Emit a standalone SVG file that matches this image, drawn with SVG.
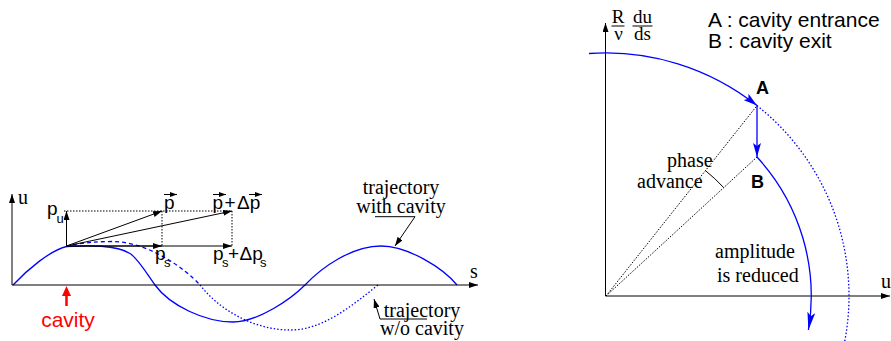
<svg xmlns="http://www.w3.org/2000/svg" width="891" height="341" viewBox="0 0 891 341">
<defs>
<style>
.ax{stroke:#000;stroke-width:1;fill:none}
.bl{stroke:#0000ff;stroke-width:1.3;fill:none}
.dash{stroke-dasharray:4 3}
.dot{stroke-dasharray:1.5 2}
.kdot{stroke:#000;stroke-width:1;stroke-dasharray:1.5 1.5;fill:none}
.serif{font-family:"Liberation Serif","Times New Roman",serif;font-size:20px;fill:#000}
.frac{font-family:"Liberation Serif","Times New Roman",serif;font-size:19px;fill:#000}
.sans{font-family:"Liberation Sans",Arial,sans-serif;fill:#000}
.p{font-size:19px}
.sub{font-size:13px}
</style>
<marker id="ak" markerUnits="userSpaceOnUse" markerWidth="9" markerHeight="6" refX="9" refY="3" orient="auto"><path d="M0,0 L9,3 L0,6 z" fill="#000"/></marker>
<marker id="aks" markerUnits="userSpaceOnUse" markerWidth="7" markerHeight="5" refX="7" refY="2.5" orient="auto"><path d="M0,0 L7,2.5 L0,5 z" fill="#000"/></marker>
<marker id="ab" markerUnits="userSpaceOnUse" markerWidth="14" markerHeight="8" refX="14" refY="4" orient="auto"><path d="M0,0 L14,4 L0,8 L3,4 z" fill="#0000ff"/></marker>
<marker id="abb" markerUnits="userSpaceOnUse" markerWidth="18" markerHeight="8" refX="18" refY="4" orient="auto"><path d="M0,0 L18,4 L0,8 L4,4 z" fill="#0000ff"/></marker>
</defs>

<g id="left-plot">
<g id="left-curves">
<path class="bl" d="M13,285 C27,270 50,250.5 66.5,246.5 C88,245.5 116,244.5 130,253.5 C138,258.6 147,274 155,285 C170,305.6 205,322 233,322 C258,322 291,299 305,285 C322,267 352,246 381,246 C408,246 443,268 457,285"/>
<path class="bl dash" d="M66.5,246.5 C80,243 95,241.5 112,241.5 C148,241.5 185,268.5 200,285"/>
<path class="bl dot" d="M200,285 C222,313 257.5,330 290,330 C321.8,330 349.3,308 378,285"/>
</g>
<g id="left-axes">
<line class="ax" x1="12" y1="285" x2="12" y2="194" marker-end="url(#ak)"/>
<line class="ax" x1="12" y1="285" x2="478" y2="285" marker-end="url(#ak)"/>
<text class="serif" x="18" y="204">u</text>
<text class="serif" x="470" y="278">s</text>
</g>
<g id="vectors">
<line class="kdot" x1="64" y1="211" x2="232" y2="211"/>
<line class="kdot" x1="162" y1="211" x2="162" y2="246"/>
<line class="kdot" x1="232" y1="211" x2="232" y2="246"/>
<line class="ax" x1="66.5" y1="246" x2="66.5" y2="211" marker-end="url(#ak)"/>
<line class="ax" x1="66.5" y1="246" x2="162" y2="211" marker-end="url(#ak)"/>
<line class="ax" x1="66.5" y1="246" x2="232" y2="211" marker-end="url(#ak)"/>
<line class="ax" x1="66.5" y1="246" x2="232" y2="246" marker-end="url(#ak)"/>
<line class="ax" x1="66.5" y1="246" x2="162" y2="246" marker-end="url(#ak)"/>
</g>
<g id="vector-labels" class="sans">
<text class="p" x="47" y="215">p<tspan class="sub" x="56.5" y="223">u</tspan></text>
<text class="p" x="164" y="208.5">p</text>
<line class="ax" x1="164" y1="194.5" x2="177" y2="194.5" marker-end="url(#aks)"/>
<text class="p" x="212.5" y="208.5">p<tspan x="224.5">+</tspan><tspan x="237">Δp</tspan></text>
<line class="ax" x1="213" y1="194.5" x2="226" y2="194.5" marker-end="url(#aks)"/>
<line class="ax" x1="249" y1="194.5" x2="262" y2="194.5" marker-end="url(#aks)"/>
<text class="p" x="155" y="260">p<tspan class="sub" x="164" y="266.5">s</tspan></text>
<text class="p" x="213" y="260">p<tspan class="sub" x="222" y="266.5">s</tspan><tspan x="228" y="260">+</tspan><tspan x="239.5" y="260">Δp</tspan><tspan class="sub" x="260" y="266.5">s</tspan></text>
</g>
<g id="cavity-marker">
<line x1="66.5" y1="306" x2="66.5" y2="294" stroke="#ff0000" stroke-width="2.5"/>
<path d="M66.5,286 L71,296 L62,296 z" fill="#ff0000"/>
<text class="sans" x="68" y="327" font-size="21" style="fill:#ff0000" text-anchor="middle">cavity</text>
</g>
<g id="label-with-cavity">
<text class="serif" x="401" y="194" text-anchor="middle">trajectory</text>
<text class="serif" x="401" y="213" text-anchor="middle">with cavity</text>
<polyline class="ax" points="375,216.7 415,216.7"/>
<line class="ax" x1="415" y1="216.7" x2="395" y2="246" marker-end="url(#ak)"/>
</g>
<g id="label-without-cavity">
<text class="serif" x="422" y="316.5" text-anchor="middle">trajectory</text>
<text class="serif" x="422" y="335" text-anchor="middle">w/o cavity</text>
<polyline class="ax" points="427,319 380,319"/>
<line class="ax" x1="380" y1="319" x2="374" y2="299" marker-end="url(#ak)"/>
</g>
</g>

<g id="right-plot">
<g id="right-axes">
<line class="ax" x1="605.5" y1="296" x2="605.5" y2="23" marker-end="url(#ak)"/>
<line class="ax" x1="605.5" y1="296" x2="890" y2="296" marker-end="url(#ak)"/>
<text class="serif" x="881" y="288">u</text>
<g id="ylabel" text-anchor="middle">
<text class="frac" x="618" y="23">R</text>
<line class="ax" x1="611.5" y1="26" x2="624.5" y2="26"/>
<text class="frac" x="618.5" y="40">ν</text>
<text class="frac" x="642.5" y="23">du</text>
<line class="ax" x1="632.5" y1="26" x2="652.5" y2="26"/>
<text class="frac" x="642.5" y="40">ds</text>
</g>
</g>
<g id="legend" class="sans" font-size="21">
<text x="708" y="27" font-size="21">A : cavity entrance</text>
<text x="708" y="48" font-size="21">B : cavity exit</text>
</g>
<g id="phase-lines">
<line class="kdot" x1="606" y1="296" x2="757" y2="105.6"/>
<line class="kdot" x1="606" y1="296" x2="757" y2="157"/>
<path class="ax" d="M705.4,170.6 A160,160 0 0 1 723.7,187.6"/>
<text class="serif" x="667" y="167">phase</text>
<text class="serif" x="637" y="188">advance</text>
</g>
<g id="orbit">
<path class="bl" d="M589,53.5 A243,243 0 0 1 757,105.6" marker-end="url(#ab)"/>
<path class="bl dot" d="M757,105.6 A243,243 0 0 1 844,345"/>
<line class="bl" x1="757" y1="105.6" x2="757" y2="157" marker-end="url(#ab)"/>
<path class="bl" d="M757,157 A205.2,205.2 0 0 1 808.4,330" marker-end="url(#abb)"/>
</g>
<g id="point-labels" class="sans" font-size="18" font-weight="bold">
<text x="756" y="94" font-size="18" font-weight="bold">A</text>
<text x="751" y="188" font-size="18" font-weight="bold">B</text>
</g>
<text class="serif" x="715" y="258">amplitude</text>
<text class="serif" x="717" y="282">is reduced</text>
</g>
</svg>
